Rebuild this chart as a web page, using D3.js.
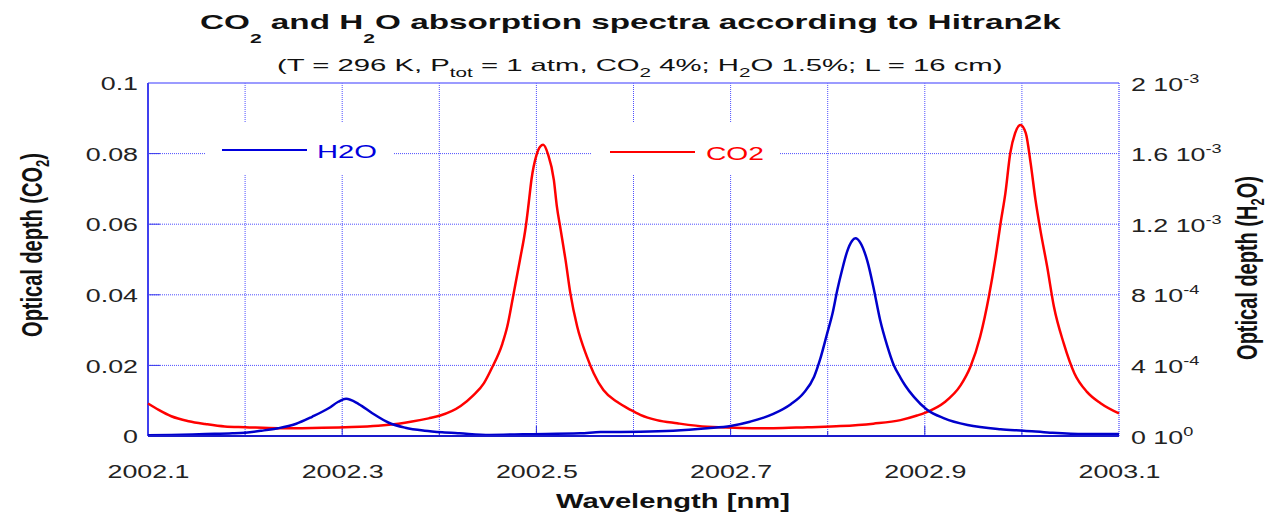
<!DOCTYPE html>
<html>
<head>
<meta charset="utf-8">
<script src="https://cdn.jsdelivr.net/npm/d3@7"></script>
<style>
  body { margin: 0; background: #fff; }
  text { font-family: "Liberation Sans", Arial, sans-serif; }
</style>
</head>
<body>
<div id="graph"></div>
<script>
const MARGIN = { LEFT: 148, RIGHT: 164, TOP: 83, BOTTOM: 82 }
const WIDTH = 1283 - MARGIN.LEFT - MARGIN.RIGHT
const HEIGHT = 518 - MARGIN.TOP - MARGIN.BOTTOM

// grid / tick values
const xGrid = [2002.1, 2002.2, 2002.3, 2002.4, 2002.5, 2002.6, 2002.7, 2002.8, 2002.9, 2003.0, 2003.1]
const xLabels = [2002.1, 2002.3, 2002.5, 2002.7, 2002.9, 2003.1]
const co2Ticks = [0, 0.02, 0.04, 0.06, 0.08, 0.1]
const co2TickLabels = ["0", "0.02", "0.04", "0.06", "0.08", "0.1"]
const h2oTicks = [0, 4e-4, 8e-4, 1.2e-3, 1.6e-3, 2e-3]
const h2oMant = ["0", "4", "8", "1.2", "1.6", "2"]
const h2oExp = ["0", "-4", "-4", "-3", "-3", "-3"]

// CO2 optical depth (left axis)
const co2Wave = [2002.100, 2002.111, 2002.124, 2002.142, 2002.159, 2002.179, 2002.200, 2002.234, 2002.269, 2002.303,
  2002.337, 2002.358, 2002.372, 2002.389, 2002.401, 2002.422, 2002.435, 2002.446, 2002.454, 2002.465,
  2002.470, 2002.476, 2002.483, 2002.489, 2002.492, 2002.495, 2002.500, 2002.504, 2002.507, 2002.512,
  2002.518, 2002.521, 2002.525, 2002.530, 2002.535, 2002.542, 2002.552, 2002.559, 2002.569, 2002.583,
  2002.597, 2002.607, 2002.624, 2002.645, 2002.676, 2002.710, 2002.744, 2002.779, 2002.813, 2002.847,
  2002.875, 2002.892, 2002.904, 2002.920, 2002.937, 2002.947, 2002.957, 2002.966, 2002.973, 2002.978,
  2002.983, 2002.988, 2002.993, 2002.9985, 2003.004, 2003.009, 2003.014, 2003.019, 2003.026, 2003.033,
  2003.043, 2003.054, 2003.067, 2003.081, 2003.100]
const co2Depth = [0.0092, 0.0074, 0.0056, 0.0042, 0.0034, 0.0027, 0.0025, 0.0022, 0.0023, 0.0025,
  0.0029, 0.0035, 0.0041, 0.0050, 0.0058, 0.0085, 0.0115, 0.0150, 0.0192, 0.0262,
  0.0310, 0.0395, 0.0498, 0.0592, 0.0658, 0.0728, 0.0795, 0.0820, 0.0825, 0.0798,
  0.0725, 0.0652, 0.0584, 0.0499, 0.0404, 0.0310, 0.0225, 0.0178, 0.0130, 0.0097,
  0.0074, 0.0060, 0.0045, 0.0036, 0.0026, 0.0023, 0.0022, 0.0025, 0.0028, 0.0035,
  0.0045, 0.0058, 0.0070, 0.0095, 0.0144, 0.0196, 0.0281, 0.0395, 0.0508, 0.0602,
  0.0688, 0.0801, 0.0858, 0.0881, 0.0858, 0.0773, 0.0669, 0.0584, 0.0480, 0.0366,
  0.0263, 0.0178, 0.0125, 0.0093, 0.0064]

// H2O optical depth (right axis)
const h2oWave = [2002.100, 2002.124, 2002.159, 2002.187, 2002.200, 2002.217, 2002.234, 2002.252, 2002.269, 2002.286,
  2002.296, 2002.304, 2002.317, 2002.331, 2002.348, 2002.365, 2002.385, 2002.403, 2002.421, 2002.452,
  2002.486, 2002.545, 2002.566, 2002.607, 2002.641, 2002.676, 2002.700, 2002.720, 2002.744, 2002.762,
  2002.775, 2002.786, 2002.792, 2002.799, 2002.805, 2002.810, 2002.815, 2002.820, 2002.825, 2002.8285,
  2002.834, 2002.841, 2002.847, 2002.854, 2002.861, 2002.868, 2002.875, 2002.880, 2002.889, 2002.902,
  2002.920, 2002.944, 2002.978, 2003.002, 2003.029, 2003.064, 2003.100]
const h2oDepth = [0.4e-5, 0.6e-5, 1.1e-5, 1.5e-5, 1.9e-5, 3.0e-5, 4.4e-5, 6.8e-5, 1.09e-4, 1.57e-4,
  1.94e-4, 2.11e-4, 1.81e-4, 1.29e-4, 7.5e-5, 4.7e-5, 3.0e-5, 2.1e-5, 1.5e-5, 0.6e-5,
  1.0e-5, 1.5e-5, 2.2e-5, 2.4e-5, 3.0e-5, 4.4e-5, 5.7e-5, 8.1e-5, 1.25e-4, 1.80e-4,
  2.42e-4, 3.36e-4, 4.31e-4, 5.72e-4, 6.95e-4, 8.30e-4, 9.45e-4, 1.045e-3, 1.105e-3, 1.12e-3,
  1.092e-3, 9.88e-4, 8.46e-4, 6.57e-4, 5.16e-4, 4.02e-4, 3.30e-4, 2.85e-4, 2.20e-4, 1.50e-4,
  1.00e-4, 6.2e-5, 3.8e-5, 3.0e-5, 1.9e-5, 1.1e-5, 1.1e-5]

const co2Data = co2Wave.map((w, i) => ({ w: w, v: co2Depth[i] }))
const h2oData = h2oWave.map((w, i) => ({ w: w, v: h2oDepth[i] }))

const svg = d3.select("#graph").append("svg")
  .attr("width", 1283)
  .attr("height", 518)
svg.append("rect").attr("width", 1283).attr("height", 518).attr("fill", "#fff")

const g = svg.append("g")
  .attr("transform", `translate(${MARGIN.LEFT}, ${MARGIN.TOP})`)

const x = d3.scaleLinear().domain([2002.1, 2003.1]).range([0, WIDTH])
const yL = d3.scaleLinear().domain([0, 0.1]).range([HEIGHT, 0])
const yR = d3.scaleLinear().domain([0, 0.002]).range([HEIGHT, 0])

const STRETCH = 1.45
const GRID = "#4f4fff"

// stretch a text horizontally so it spans `target` px
function fitText(t, px, py, target) {
  const w = t.node().getBBox().width
  t.attr("transform", `translate(${px}, ${py}) scale(${target / w}, 1)`)
}

// grid lines
g.append("g").selectAll("line.vg")
  .data(xGrid.slice(1, -1))
  .enter().append("line")
  .attr("x1", d => x(d)).attr("x2", d => x(d))
  .attr("y1", 0).attr("y2", HEIGHT)
  .attr("stroke", GRID).attr("stroke-width", 1).attr("stroke-dasharray", "1,1")
g.append("g").selectAll("line.hg")
  .data(co2Ticks.slice(1, -1))
  .enter().append("line")
  .attr("x1", 0).attr("x2", WIDTH)
  .attr("y1", d => yL(d)).attr("y2", d => yL(d))
  .attr("stroke", GRID).attr("stroke-width", 1).attr("stroke-dasharray", "1,1")

// legend boxes hide the grid
const legendBoxes = [[205, 123, 188, 52], [591, 123, 189, 52]]
g.selectAll("rect.lbox")
  .data(legendBoxes)
  .enter().append("rect")
  .attr("x", d => d[0] - MARGIN.LEFT).attr("y", d => d[1] - MARGIN.TOP)
  .attr("width", d => d[2]).attr("height", d => d[3])
  .attr("fill", "#fff")

// frame
g.append("line").attr("x1", 0).attr("x2", WIDTH).attr("y1", 0).attr("y2", 0)
  .attr("stroke", "#7a7aff").attr("stroke-width", 1.5)
g.append("line").attr("x1", WIDTH).attr("x2", WIDTH).attr("y1", 0).attr("y2", HEIGHT)
  .attr("stroke", "#6a6aff").attr("stroke-width", 1.5).attr("stroke-dasharray", "1,1")

// inward ticks
g.append("g").selectAll("line")
  .data(xGrid.slice(1, -1))
  .enter().append("line")
  .attr("x1", d => x(d)).attr("x2", d => x(d))
  .attr("y1", HEIGHT).attr("y2", d => HEIGHT - (xLabels.some(l => Math.abs(l - d) < 1e-6) ? 10 : 5))
  .attr("stroke", "#2a2ae0").attr("stroke-width", 1)
g.append("g").selectAll("line")
  .data(co2Ticks.slice(1, -1))
  .enter().append("line")
  .attr("x1", 0).attr("x2", 12)
  .attr("y1", d => yL(d)).attr("y2", d => yL(d))
  .attr("stroke", "#3a3aee").attr("stroke-width", 1)

// X axis labels
const xAxis = g.append("g")
  .attr("transform", `translate(0, ${HEIGHT})`)
  .call(d3.axisBottom(x).tickValues(xLabels).tickSize(0).tickFormat(d3.format(".1f")))
xAxis.select(".domain").remove()
xAxis.selectAll(".tick text")
  .attr("y", 42).attr("dy", null)
  .attr("font-size", "18.5px").attr("font-family", null).attr("fill", "#222")
  .attr("transform", `scale(${STRETCH}, 1)`)

// Left axis labels
const leftAxis = g.append("g")
  .call(d3.axisLeft(yL).tickValues(co2Ticks).tickSize(0).tickFormat((d, i) => co2TickLabels[i]))
leftAxis.select(".domain").remove()
leftAxis.selectAll(".tick text")
  .attr("x", -10 / STRETCH).attr("dy", "0.36em")
  .attr("font-size", "18.5px").attr("font-family", null).attr("fill", "#222")
  .attr("transform", `scale(${STRETCH}, 1)`)

// Right axis labels (mantissa 10^exp)
const rightAxis = g.append("g")
  .attr("transform", `translate(${WIDTH}, 0)`)
  .call(d3.axisRight(yR).tickValues(h2oTicks).tickSize(0).tickFormat(""))
rightAxis.select(".domain").remove()
rightAxis.selectAll(".tick text").remove()
rightAxis.selectAll(".tick").append("text")
  .attr("x", 12 / STRETCH).attr("y", 7)
  .attr("font-size", "18.5px").attr("fill", "#222")
  .attr("transform", `scale(${STRETCH}, 1)`)
  .each(function (d, i) {
    const t = d3.select(this)
    t.append("tspan").text(h2oMant[i] + " 10")
    t.append("tspan").attr("dy", -8).attr("font-size", "12.5px").text(h2oExp[i])
  })

// axis lines
g.append("line").attr("x1", 0).attr("x2", 0).attr("y1", 0).attr("y2", HEIGHT)
  .attr("stroke", "#4040ee").attr("stroke-width", 2)

// curves
const lineCO2 = d3.line().x(d => x(d.w)).y(d => yL(d.v)).curve(d3.curveMonotoneX)
const lineH2O = d3.line().x(d => x(d.w)).y(d => yR(d.v)).curve(d3.curveMonotoneX)
g.append("path").datum(co2Data).attr("d", lineCO2)
  .attr("fill", "none").attr("stroke", "#ff0000").attr("stroke-width", 2.5).attr("stroke-linejoin", "round")
g.append("path").datum(h2oData).attr("d", lineH2O)
  .attr("fill", "none").attr("stroke", "#0000cc").attr("stroke-width", 2.5).attr("stroke-linejoin", "round")

g.append("line").attr("x1", 0).attr("x2", WIDTH).attr("y1", HEIGHT).attr("y2", HEIGHT)
  .attr("stroke", "#1a1acc").attr("stroke-width", 2)

// legend
const legend = [
  { name: "H2O", color: "#0000dd", x1: 222, x2: 307, y: 150, tx: 317, ty: 158, w: 60 },
  { name: "CO2", color: "#ff0000", x1: 610, x2: 695, y: 152, tx: 706, ty: 160, w: 58 }
]
legend.forEach(l => {
  svg.append("line").attr("x1", l.x1).attr("x2", l.x2).attr("y1", l.y).attr("y2", l.y)
    .attr("stroke", l.color).attr("stroke-width", 2)
  const t = svg.append("text").attr("font-size", "19px").attr("fill", l.color).text(l.name)
  fitText(t, l.tx, l.ty, l.w)
})

// titles
const title = svg.append("text").attr("font-size", "20.5px").attr("font-weight", "bold").attr("fill", "#111")
title.append("tspan").text("CO")
title.append("tspan").attr("dy", 14).attr("font-size", "13px").text("2")
title.append("tspan").attr("dy", -14).text(" and H")
title.append("tspan").attr("dy", 14).attr("font-size", "13px").text("2")
title.append("tspan").attr("dy", -14).text("O absorption spectra according to Hitran2k")
fitText(title, 200, 29, 862)

const sub = svg.append("text").attr("font-size", "17px").attr("fill", "#111")
sub.append("tspan").text("(T = 296 K, P")
sub.append("tspan").attr("dy", 6).attr("font-size", "12px").text("tot")
sub.append("tspan").attr("dy", -6).text(" = 1 atm, CO")
sub.append("tspan").attr("dy", 6).attr("font-size", "12px").text("2")
sub.append("tspan").attr("dy", -6).text(" 4%; H")
sub.append("tspan").attr("dy", 6).attr("font-size", "12px").text("2")
sub.append("tspan").attr("dy", -6).text("O 1.5%; L = 16 cm)")
fitText(sub, 277, 71, 726)

const xLabel = svg.append("text").attr("font-size", "20px").attr("font-weight", "bold").attr("fill", "#111")
  .text("Wavelength [nm]")
fitText(xLabel, 556, 508, 234)

// rotated axis titles
function yTitle(px, py, mol1, mol2) {
  const t = svg.append("text").attr("font-size", "20px").attr("font-weight", "bold").attr("fill", "#111")
    .attr("text-anchor", "middle")
    .attr("transform", `translate(${px}, ${py}) rotate(-90) scale(1, ${STRETCH})`)
  t.append("tspan").text("Optical depth (" + mol1)
  t.append("tspan").attr("dy", 5).attr("font-size", "13px").text("2")
  t.append("tspan").attr("dy", -5).text(mol2 + ")")
}
yTitle(42, 245, "CO", "")
yTitle(1257, 268, "H", "O")
</script>
</body>
</html>
